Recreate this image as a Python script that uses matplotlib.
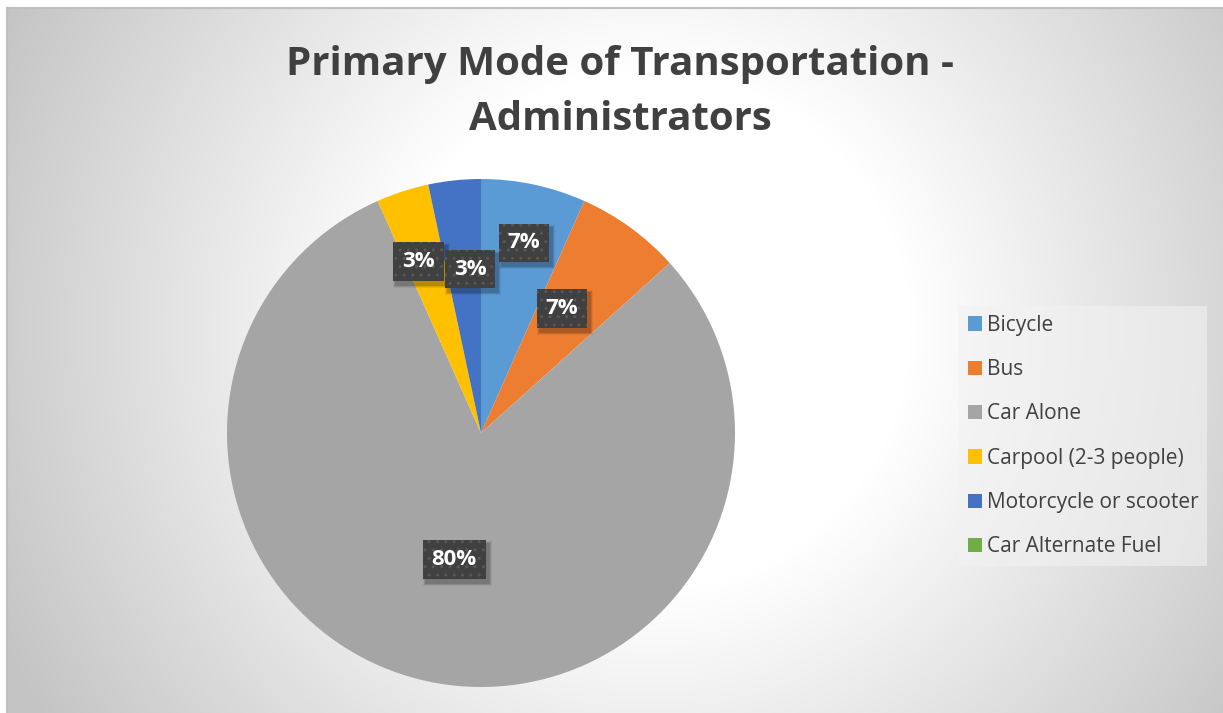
import numpy as np
import matplotlib.pyplot as plt
from matplotlib.patches import Patch, Rectangle
from matplotlib.transforms import IdentityTransform

plt.rcParams['font.family'] = ['Open Sans', 'DejaVu Sans']
plt.rcParams['hatch.color'] = '#575757'
plt.rcParams['hatch.linewidth'] = 1.0

# data
categories = ['Bicycle', 'Bus', 'Car Alone', 'Carpool (2-3 people)',
              'Motorcycle or scooter', 'Car Alternate Fuel']
counts = [2, 2, 24, 1, 1, 0]
colors = ['#5B9BD5', '#ED7D31', '#A5A5A5', '#FFC000', '#4472C4', '#70AD47']
title = 'Primary Mode of Transportation -\nAdministrators'

# label placement: distance from centre (fraction of radius) and angle nudge (deg)
label_r = [0.767, 0.586, 0.51, 0.72, 0.647, 0.6]
label_nudge = [-0.75, 3, 0, 2, -2.2, 0]

W, H = 1223, 713
fig = plt.figure(figsize=(W / 100, H / 100), dpi=100)
fig.patch.set_facecolor('white')

# background: radial gradient in the chart area
bg = fig.add_axes([7 / W, 0, 1 - 7 / W, 1 - 8 / H])
yy, xx = np.mgrid[8:H, 7:W]
d = np.hypot(xx - 650, yy - 330)
val = 1.0 - 0.23 * np.clip((d - 260) / 460, 0, 1)
bg.imshow(np.dstack([val, val, val]), aspect='auto', extent=[0, 1, 0, 1])
bg.set_axis_off()
fig.add_artist(plt.Line2D([7 / W, 1], [1 - 8 / H, 1 - 8 / H], transform=fig.transFigure,
                          color='#BFBFBF', lw=1.5))
fig.add_artist(plt.Line2D([7 / W, 7 / W], [0, 1 - 8 / H], transform=fig.transFigure,
                          color='#BFBFBF', lw=1.5))

# pie
cx, cy, r = 481, 433, 254
ax = fig.add_axes([(cx - r) / W, (H - cy - r) / H, 2 * r / W, 2 * r / H])
total = sum(counts)
wedges, _ = ax.pie(counts, colors=colors, startangle=90, counterclock=False,
                   radius=1, wedgeprops=dict(linewidth=0))
ax.set_xlim(-1, 1)
ax.set_ylim(-1, 1)
ax.set_aspect('equal')
ax.set_axis_off()

labels = []
for w, c, lr, nd in zip(wedges, counts, label_r, label_nudge):
    if c == 0:
        continue
    ang = np.deg2rad((w.theta1 + w.theta2) / 2 + nd)
    x, y = lr * np.cos(ang), lr * np.sin(ang)
    txt = f'{round(100 * c / total)}%'
    t = ax.text(x, y, txt, ha='center', va='center', fontsize=16, fontweight='bold',
                color='white', zorder=5,
                bbox=dict(boxstyle='square,pad=0.4', fc='#404040', ec='#575757',
                          lw=0, hatch='..'))
    labels.append(t)

# soft shadows behind the label boxes
fig.canvas.draw()
for t in labels:
    bb = t.get_bbox_patch().get_window_extent()
    for k, a in [(6, 0.06), (4, 0.1), (2, 0.14)]:
        ax.add_patch(Rectangle((bb.x0 + 3 - k / 2, bb.y0 - 4 - k / 2), bb.width + k,
                               bb.height + k, transform=IdentityTransform(),
                               fc='black', ec='none', alpha=a, zorder=4))

fig.text(620 / W, 1 - 92 / H, title, ha='center', va='center', fontsize=29,
         fontweight='bold', color='#404040', linespacing=1.5)

# legend
handles = [Patch(facecolor=c, edgecolor='none') for c in colors]
leg = fig.legend(handles, categories, loc='upper left',
                 bbox_to_anchor=(949 / W, 1 - 296 / H), frameon=True,
                 fontsize=15, labelcolor='#404040', handlelength=0.67,
                 handleheight=0.67, handletextpad=0.24, labelspacing=1.12,
                 borderpad=0.4, fancybox=False)
leg.get_frame().set_facecolor('#F2F2F2')
leg.get_frame().set_edgecolor('none')
leg.get_frame().set_alpha(0.6)

fig.savefig('out.png', dpi=100)
